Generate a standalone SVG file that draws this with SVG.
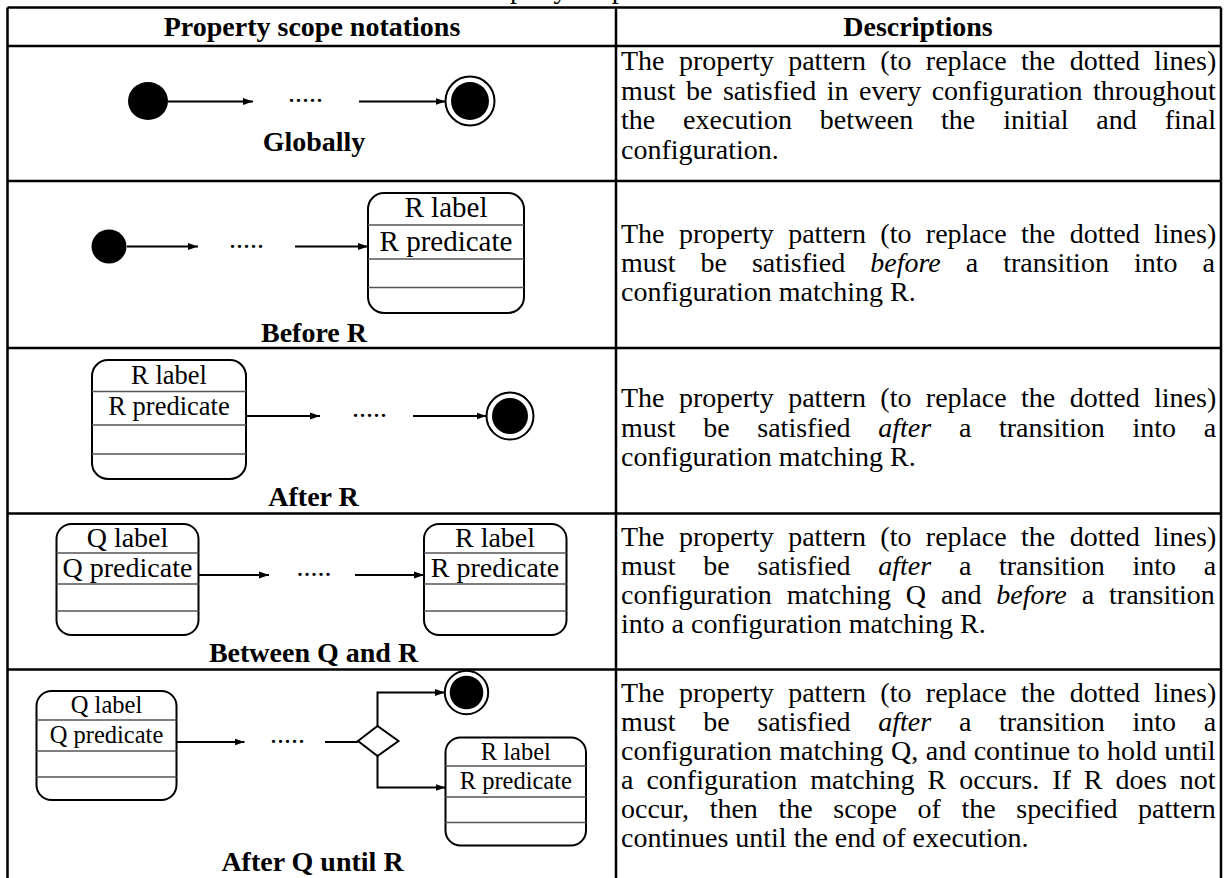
<svg xmlns="http://www.w3.org/2000/svg" width="1225" height="878" viewBox="0 0 1225 878">
<defs>
<marker id="ah" markerWidth="11" markerHeight="8" refX="10" refY="4" orient="auto" markerUnits="userSpaceOnUse"><path d="M0,0.5 L10,4 L0,7.5 z" fill="#000"/></marker>
<style>
.t{font-family:"Liberation Serif","Times New Roman",serif;font-size:28px;fill:#000}
.b{font-weight:bold}
.m{text-anchor:middle}
.i{font-style:italic}
.grid{stroke:#000;stroke-width:2.5;fill:none}
.st{fill:#fff;stroke:#000;stroke-width:2}
.dv{stroke:#555;stroke-width:1.3}
.ar{stroke:#000;stroke-width:2;fill:none;marker-end:url(#ah)}
.ln{stroke:#000;stroke-width:2;fill:none}
.dot{fill:#000}
</style>
</defs>
<rect width="1225" height="878" fill="#fff"/>
<text class="t" x="471" y="-2">Property scope notations</text>

<g id="table" class="grid">
<path d="M7.5,7.5 H1221 M7.5,46 H1221 M7.5,181 H1221 M7.5,348 H1221 M7.5,513.5 H1221 M7.5,669.5 H1221 M7.5,7.5 V878 M616,7.5 V878 M1221,7.5 V878"/>
</g>

<g id="headers">
<text class="t b m" x="312" y="36">Property scope notations</text>
<text class="t b m" x="918" y="36">Descriptions</text>
</g>

<g id="descriptions" class="t">
<text x="621" y="70" style="word-spacing:7.4px">The property pattern (to replace the dotted lines)</text>
<text x="621" y="99.5" style="word-spacing:3.5px">must be satisfied in every configuration throughout</text>
<text x="621" y="129" style="word-spacing:20.9px">the execution between the initial and final</text>
<text x="621" y="158.5">configuration.</text>

<text x="621" y="243" style="word-spacing:7.4px">The property pattern (to replace the dotted lines)</text>
<text x="621" y="272" style="word-spacing:18px">must be satisfied <tspan class="i">before</tspan> a transition into a</text>
<text x="621" y="301">configuration matching R.</text>

<text x="621" y="407" style="word-spacing:7.4px">The property pattern (to replace the dotted lines)</text>
<text x="621" y="436.5" style="word-spacing:20.7px">must be satisfied <tspan class="i">after</tspan> a transition into a</text>
<text x="621" y="466">configuration matching R.</text>

<text x="621" y="546" style="word-spacing:7.4px">The property pattern (to replace the dotted lines)</text>
<text x="621" y="575" style="word-spacing:20.7px">must be satisfied <tspan class="i">after</tspan> a transition into a</text>
<text x="621" y="604" style="word-spacing:7.9px">configuration matching Q and <tspan class="i">before</tspan> a transition</text>
<text x="621" y="633">into a configuration matching R.</text>

<text x="621" y="702" style="word-spacing:7.4px">The property pattern (to replace the dotted lines)</text>
<text x="621" y="731" style="word-spacing:20.7px">must be satisfied <tspan class="i">after</tspan> a transition into a</text>
<text x="621" y="760" style="word-spacing:0.5px">configuration matching Q, and continue to hold until</text>
<text x="621" y="789" style="word-spacing:6px">a configuration matching R occurs. If R does not</text>
<text x="621" y="818" style="word-spacing:13.6px">occur, then the scope of the specified pattern</text>
<text x="621" y="847">continues until the end of execution.</text>
</g>

<g id="connectors">
<path class="ar" d="M168,101.5 H253"/>
<path class="ar" d="M359,101.5 H445.5"/>
<path class="ar" d="M127,246.5 H198"/>
<path class="ar" d="M295,246.5 H368"/>
<path class="ar" d="M246,416 H320"/>
<path class="ar" d="M413,416 H486.5"/>
<path class="ar" d="M198.5,575 H269"/>
<path class="ar" d="M355,575 H424"/>
<path class="ar" d="M177,742 H244.5"/>
<path class="ln" d="M325,742 H358"/>
<path class="ar" d="M377.5,726 V692.5 H444.8"/>
<path class="ar" d="M377.5,756 V787.5 H445.5"/>
</g>

<!-- Row 1: Globally -->
<g id="r1-initial"><ellipse class="dot" cx="148" cy="101" rx="20" ry="19"/></g>
<g id="r1-dots"><text class="t" x="288" y="102">.....</text></g>
<g id="r1-final"><circle class="st" cx="470" cy="101" r="24.5"/><circle class="dot" cx="470" cy="101" r="19"/></g>
<text class="t b m" x="314" y="151">Globally</text>

<!-- Row 2: Before R -->
<g id="r2-initial"><ellipse class="dot" cx="109" cy="246.5" rx="17.5" ry="17"/></g>
<g id="r2-dots"><text class="t" x="229" y="247.5">.....</text></g>
<g id="r2-R">
<rect class="st" x="368" y="193" width="156" height="120" rx="16"/>
<path class="dv" d="M368,225 H524 M368,259 H524 M368,287.5 H524"/>
<text class="t m" x="446" y="217" style="font-size:29px">R label</text>
<text class="t m" x="446" y="251" style="font-size:29px">R predicate</text>
</g>
<text class="t b m" x="314" y="342">Before R</text>

<!-- Row 3: After R -->
<g id="r3-R">
<rect class="st" x="92" y="360" width="154" height="119" rx="16"/>
<path class="dv" d="M92,391.5 H246 M92,425 H246 M92,454 H246"/>
<text class="t m" x="169" y="384" style="font-size:26.5px">R label</text>
<text class="t m" x="169" y="415" style="font-size:26.5px">R predicate</text>
</g>
<g id="r3-dots"><text class="t" x="352" y="417">.....</text></g>
<g id="r3-final"><circle class="st" cx="510" cy="416" r="23.5"/><circle class="dot" cx="510" cy="416" r="18"/></g>
<text class="t b m" x="313.5" y="506">After R</text>

<!-- Row 4: Between Q and R -->
<g id="r4-Q">
<rect class="st" x="56.5" y="524" width="142" height="111" rx="15"/>
<path class="dv" d="M56.5,553 H198.5 M56.5,584 H198.5 M56.5,611 H198.5"/>
<text class="t m" x="127.5" y="547">Q label</text>
<text class="t m" x="127.5" y="577">Q predicate</text>
</g>
<g id="r4-dots"><text class="t" x="296.5" y="576">.....</text></g>
<g id="r4-R">
<rect class="st" x="424" y="524" width="142.5" height="111" rx="15"/>
<path class="dv" d="M424,553 H566.5 M424,584 H566.5 M424,611 H566.5"/>
<text class="t m" x="495" y="547">R label</text>
<text class="t m" x="495" y="577">R predicate</text>
</g>
<text class="t b m" x="313.5" y="662">Between Q and R</text>

<!-- Row 5: After Q until R -->
<g id="r5-Q">
<rect class="st" x="36.5" y="691" width="140" height="109" rx="15"/>
<path class="dv" d="M36.5,720 H176.5 M36.5,751 H176.5 M36.5,777 H176.5"/>
<text class="t m" x="106.5" y="713" style="font-size:24.5px">Q label</text>
<text class="t m" x="106.5" y="743" style="font-size:24.5px">Q predicate</text>
</g>
<g id="r5-dots"><text class="t" x="270" y="743">.....</text></g>
<g id="r5-decision"><polygon class="st" points="358,741 377.5,726 398.5,741 377.5,756"/></g>
<g id="r5-final"><circle class="st" cx="466.5" cy="692.5" r="21.7"/><circle class="dot" cx="466.5" cy="692.5" r="16.8"/></g>
<g id="r5-R">
<rect class="st" x="445.5" y="737.5" width="140.5" height="108" rx="15"/>
<path class="dv" d="M445.5,766 H586 M445.5,797 H586 M445.5,822.5 H586"/>
<text class="t m" x="515.8" y="760" style="font-size:24.5px">R label</text>
<text class="t m" x="515.8" y="789" style="font-size:24.5px">R predicate</text>
</g>
<text class="t b m" x="312.5" y="871">After Q until R</text>
</svg>
